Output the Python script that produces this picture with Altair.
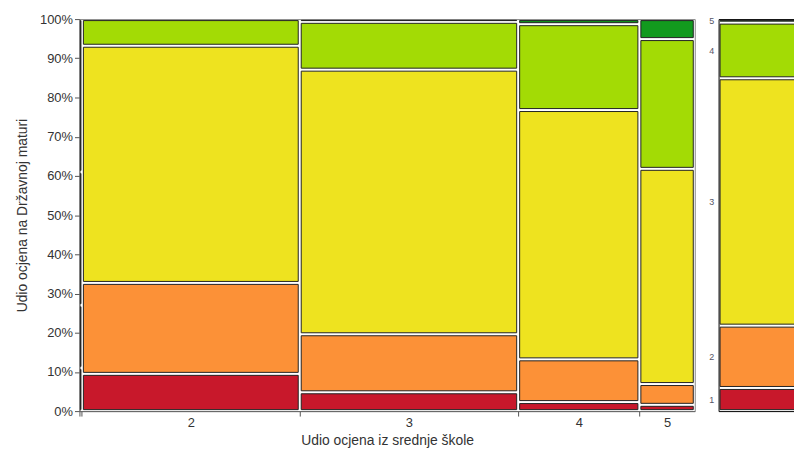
import altair as alt
import pandas as pd

# Grades (high school = x, state matura = y)
hs_grades = ["1", "2", "3", "4", "5"]
dm_grades = ["1", "2", "3", "4", "5"]

# Share of each high-school grade (% of students) -> column widths
hs_share = [0.4, 35.4, 35.5, 19.7, 9.0]

# Share of matura grades 1..5 within each high-school grade column (%)
dm_in_hs1 = [11.0, 16.0, 34.0, 39.0, 0.0]
dm_in_hs2 = [9.5, 23.2, 60.5, 6.8, 0.0]
dm_in_hs3 = [4.8, 14.8, 67.5, 12.2, 0.7]
dm_in_hs4 = [2.3, 10.9, 63.6, 21.9, 1.3]
dm_in_hs5 = [1.6, 5.3, 54.9, 33.1, 5.1]

# Overall share of matura grades (right-hand bar, %)
dm_overall = [5.9, 15.9, 63.1, 14.2, 0.9]

colors = ["#C8182B", "#FC9137", "#EEE31F", "#A3DB05", "#129A1E"]
y_ticks = [i / 10 for i in range(11)]

# ---- build tables -------------------------------------------------------
columns = [dm_in_hs1, dm_in_hs2, dm_in_hs3, dm_in_hs4, dm_in_hs5]
rows = []
x_start = 0.0
bounds = []
centers = []
for g, w, col in zip(hs_grades, hs_share, columns):
    x_end = x_start + w / 100
    bounds.append(x_start)
    centers.append((x_start + x_end) / 2)
    y_start = 0.0
    for d, s in zip(dm_grades, col):
        y_end = y_start + s / 100
        if s > 0:
            rows.append({"hs": g, "dm": d, "x0": x_start, "x1": x_end,
                         "y0": y_start, "y1": y_end})
        y_start = y_end
    x_start = x_end
df = pd.DataFrame(rows)

rows2 = []
y_start = 0.0
m_centers = []
for d, s in zip(dm_grades, dm_overall):
    y_end = y_start + s / 100
    rows2.append({"dm": d, "x0": 0.0, "x1": 1.0, "y0": y_start, "y1": y_end})
    m_centers.append((y_start + y_end) / 2)
    y_start = y_end
df2 = pd.DataFrame(rows2)

label_centers = centers[1:]
label_names = hs_grades[1:]
x_values = bounds + label_centers
lab_expr = " : ".join(
    f"abs(datum.value - {c:.6f}) < 0.0005 ? '{n}'" for c, n in zip(label_centers, label_names)
) + " : ''"
tick_test = " || ".join(f"abs(datum.value - {c:.6f}) < 0.0005" for c in label_centers)

m_lab_expr = " : ".join(
    f"abs(datum.value - {c:.6f}) < 0.0005 ? '{n}'" for c, n in zip(m_centers, dm_grades)
) + " : ''"

FONT = "Liberation Sans"
TXT = "#333333"

color_enc = alt.Color("dm:N", scale=alt.Scale(domain=dm_grades, range=colors), legend=None)
rect_kw = dict(stroke="#222222", strokeWidth=1, xOffset=1.5, x2Offset=-1.5,
               yOffset=-1.5, y2Offset=1.5)

main = alt.Chart(df).mark_rect(**rect_kw).encode(
    x=alt.X("x0:Q", scale=alt.Scale(domain=[0, 1], nice=False, zero=True),
            axis=alt.Axis(values=x_values, labelExpr=lab_expr, labelOverlap=False,
                          labelFlush=False, grid=False,
                          tickOpacity={"condition": {"test": tick_test, "value": 0}, "value": 1},
                          tickSize=5, tickColor="#555555", domainColor="#666666",
                          labelFontSize=13, labelColor=TXT, labelPadding=1,
                          title="Udio ocjena iz srednje škole", titleFontSize=14,
                          titleFontWeight="normal", titleColor=TXT, titlePadding=4)),
    x2="x1:Q",
    y=alt.Y("y0:Q", scale=alt.Scale(domain=[0, 1], nice=False),
            axis=alt.Axis(values=y_ticks, format=".0%", grid=False, tickSize=5,
                          tickColor="#555555", domainColor="#666666",
                          labelFontSize=13, labelColor=TXT, labelPadding=2,
                          title="Udio ocjena na Državnoj maturi", titleFontSize=14,
                          titleFontWeight="normal", titleColor=TXT, titlePadding=10)),
    y2="y1:Q",
    color=color_enc,
).properties(width=620, height=395,
             view=alt.ViewBackground(stroke="#888888", strokeWidth=1))

margin = alt.Chart(df2).mark_rect(**rect_kw).encode(
    x=alt.X("x0:Q", scale=alt.Scale(domain=[0, 1], nice=False), axis=None),
    x2="x1:Q",
    y=alt.Y("y0:Q", scale=alt.Scale(domain=[0, 1], nice=False),
            axis=alt.Axis(values=m_centers, labelExpr=m_lab_expr, ticks=False,
                          domain=False, grid=False, labelFontSize=9,
                          labelColor="#555566", labelPadding=5, title=None,
                          labelOverlap=False, labelFlush=False)),
    y2="y1:Q",
    color=color_enc,
).properties(width=90, height=395,
             view=alt.ViewBackground(stroke="#000000", strokeWidth=1))

chart = alt.hconcat(main, margin, spacing=12).properties(
    autosize=alt.AutoSizeParams(type="none"),
    padding={"left": 72, "top": 8, "right": 720, "bottom": 429},
    background="white",
).configure(font=FONT)

chart.save("out.html", embed_options={"renderer": "svg", "actions": False})
